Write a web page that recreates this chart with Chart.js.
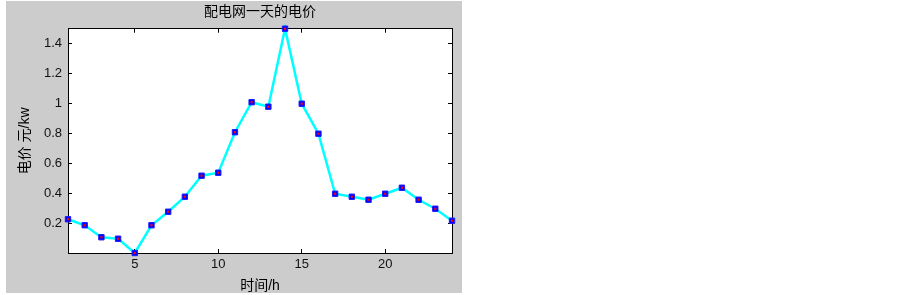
<!DOCTYPE html>
<html>
<head>
<meta charset="utf-8">
<script src="https://cdn.jsdelivr.net/npm/chart.js@4/dist/chart.umd.min.js"></script>
<style>
  html, body { margin: 0; padding: 0; background: #ffffff; }
  canvas { display: block; }
</style>
</head>
<body>
<canvas id="c" width="903" height="295"></canvas>
<script>
// ---- data ----
const titleText = '配电网一天的电价';
const xLabel = '时间/h';
const yLabel = '电价 元/kw';
const hours = [1, 2, 3, 4, 5, 6, 7, 8, 9, 10, 11, 12, 13, 14, 15, 16, 17, 18, 19, 20, 21, 22, 23, 24];
const prices = [0.23, 0.19, 0.11, 0.10, 0.005, 0.19, 0.28, 0.38, 0.52, 0.54, 0.81, 1.01, 0.98, 1.50, 1.00, 0.80, 0.40, 0.38, 0.36, 0.40, 0.44, 0.36, 0.30, 0.22];
const xTicks = [5, 10, 15, 20];
const yTicks = [0.2, 0.4, 0.6, 0.8, 1.0, 1.2, 1.4];

const points = hours.map((h, i) => ({ x: h, y: prices[i] }));
const xMin = Math.min(...hours), xMax = Math.max(...hours);
const yMin = Math.min(...prices), yMax = Math.max(...prices);

const latin = "'Liberation Sans', Arial, 'Noto Sans CJK SC', sans-serif";
const cjk = "'Liberation Sans', 'Noto Sans CJK SC', sans-serif";

const bgPlugin = {
  id: 'bg',
  beforeDraw(chart) {
    const ctx = chart.ctx;
    const a = chart.chartArea;
    ctx.save();
    ctx.fillStyle = '#cccccc';
    ctx.fillRect(6, 1, 456, 292);
    ctx.fillStyle = '#ffffff';
    ctx.fillRect(a.left, a.top, a.right - a.left, a.bottom - a.top);
    ctx.restore();
  }
};

const axisCommon = {
  type: 'linear',
  border: { display: true, color: '#000000', width: 1 },
  grid: { drawOnChartArea: false, drawTicks: true, tickLength: -4, color: '#000000', tickColor: '#000000', lineWidth: 1 }
};

new Chart(document.getElementById('c'), {
  type: 'line',
  data: {
    datasets: [
      {
        data: points,
        showLine: false,
        pointStyle: 'rect',
        pointRadius: 1.5,
        pointBackgroundColor: '#ff0000',
        pointBorderWidth: 0,
        clip: false,
        order: 0
      },
      {
        data: points,
        borderColor: '#00ffff',
        borderWidth: 2.5,
        tension: 0,
        pointStyle: 'rect',
        pointRadius: 3.8,
        pointBackgroundColor: '#0000ff',
        pointBorderColor: '#1a1aff',
        pointBorderWidth: 1,
        clip: false,
        order: 1
      }
    ]
  },
  plugins: [bgPlugin],
  options: {
    responsive: false,
    animation: false,
    devicePixelRatio: 1,
    layout: { padding: { left: 0, right: 451, top: 0, bottom: 0 } },
    plugins: {
      legend: { display: false },
      tooltip: { enabled: false },
      title: {
        display: true,
        text: titleText,
        fullSize: false,
        color: '#000000',
        font: { family: cjk, size: 14, weight: 'normal' },
        padding: { top: 3.6, bottom: 8.3 }
      }
    },
    scales: {
      x: {
        ...axisCommon,
        position: 'bottom',
        min: xMin, max: xMax,
        afterBuildTicks: (s) => { s.ticks = xTicks.map(v => ({ value: v })); },
        afterFit: (s) => { s.height = 42; },
        ticks: { color: '#111111', font: { family: latin, size: 13 }, padding: 8, maxRotation: 0, autoSkip: false, callback: (v) => String(v) },
        title: { display: true, text: xLabel, color: '#000000', font: { family: cjk, size: 14 }, padding: { top: 0, bottom: 0 } }
      },
      x2: {
        ...axisCommon,
        position: 'top',
        min: xMin, max: xMax,
        afterBuildTicks: (s) => { s.ticks = xTicks.map(v => ({ value: v })); },
        afterFit: (s) => { s.height = 0; },
        ticks: { display: false }
      },
      y: {
        ...axisCommon,
        position: 'left',
        min: yMin, max: yMax,
        afterBuildTicks: (s) => { s.ticks = yTicks.map(v => ({ value: v })); },
        afterFit: (s) => { s.width = 68; },
        ticks: { color: '#111111', font: { family: latin, size: 13 }, padding: 10, autoSkip: false, callback: (v) => String(Math.round(v * 10) / 10) },
        title: { display: true, text: yLabel, color: '#000000', font: { family: cjk, size: 14 }, padding: { top: 16.6, bottom: 0 } }
      },
      y2: {
        ...axisCommon,
        position: 'right',
        min: yMin, max: yMax,
        afterBuildTicks: (s) => { s.ticks = yTicks.map(v => ({ value: v })); },
        afterFit: (s) => { s.width = 0; },
        ticks: { display: false }
      }
    }
  }
});
</script>
</body>
</html>
